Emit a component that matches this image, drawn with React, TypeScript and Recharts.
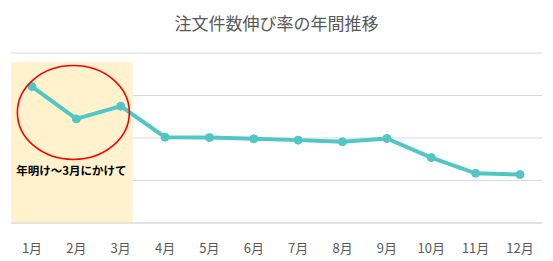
import React from "react";
import { LineChart, Line, XAxis, YAxis, CartesianGrid, ReferenceArea, ReferenceDot } from "recharts";

const months = ["1月", "2月", "3月", "4月", "5月", "6月", "7月", "8月", "9月", "10月", "11月", "12月"];
const growth = [3.21, 2.45, 2.75, 2.02, 2.01, 1.98, 1.95, 1.91, 1.99, 1.54, 1.17, 1.14];
const yTicks = [0, 1, 2, 3, 4];
const title = "注文件数伸び率の年間推移";
const noteText = "年明け～3月にかけて";

const data = months.map((m, i) => ({ month: m, value: growth[i] }));

const FONT = "'Noto Sans CJK JP', 'Noto Sans', sans-serif";

const HighlightShape = (props: any) => {
  const { x, y, width, height } = props;
  return <rect x={x - 21} y={y} width={width + 33} height={height} fill="#FFF2CC" />;
};

const EllipseShape = (props: any) => {
  const { cx, cy } = props;
  return (
    <g>
      <ellipse cx={cx - 3} cy={cy} rx={56} ry={47} fill="none" stroke="#FF0000" strokeWidth={1.6} />
      <text x={cx - 5} y={cy + 62} textAnchor="middle" fontFamily={FONT} fontSize={11.5} fontWeight={700} fill="#000">
        {noteText}
      </text>
    </g>
  );
};

export default function App() {
  return (
    <div style={{ position: "absolute", left: 0, top: 0, width: 553, height: 261, background: "#fff" }}>
      <div
        style={{
          position: "absolute",
          left: 0,
          top: 10,
          width: 553,
          textAlign: "center",
          fontFamily: FONT,
          fontSize: 17,
          color: "#595959",
        }}
      >
        {title}
      </div>
      <LineChart width={553} height={261} data={data} margin={{ top: 53, right: 11, left: 11, bottom: 0 }}>
        <CartesianGrid vertical={false} stroke="#D9D9D9" />
        <ReferenceArea x1="1月" x2="3月" y1={0} y2={3.79} shape={HighlightShape} ifOverflow="visible" />
        <XAxis
          dataKey="month"
          padding={{ left: 21, right: 22 }}
          axisLine={{ stroke: "#D9D9D9" }}
          tickLine={false}
          tickSize={0}
          tickMargin={21}
          height={38}
          interval={0}
          tick={{ fontFamily: FONT, fontSize: 13, fill: "#595959" }}
        />
        <YAxis hide domain={[0, 4]} ticks={yTicks} />
        <Line
          type="linear"
          dataKey="value"
          stroke="#52C5C5"
          strokeWidth={4}
          dot={{ r: 4, fill: "#52C5C5", stroke: "#52C5C5", strokeWidth: 1 }}
          isAnimationActive={false}
        />
        <ReferenceDot x="2月" y={2.6} shape={EllipseShape} ifOverflow="visible" />
      </LineChart>
    </div>
  );
}
